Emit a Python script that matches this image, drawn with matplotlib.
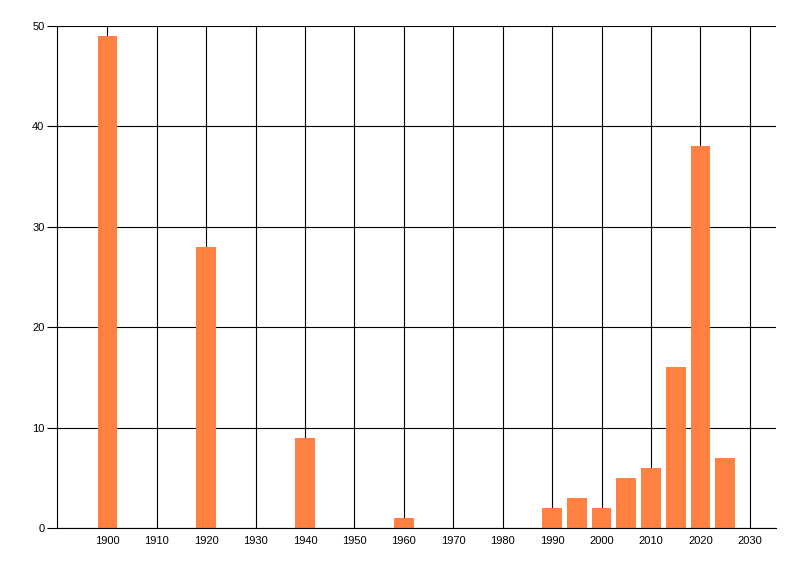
import matplotlib
matplotlib.use("Agg")
import matplotlib.pyplot as plt

# data
years = [1900, 1920, 1940, 1960, 1990, 1995, 2000, 2005, 2010, 2015, 2020, 2025]
counts = [49, 28, 9, 1, 2, 3, 2, 5, 6, 16, 38, 7]
x_ticks = list(range(1900, 2031, 10))
y_ticks = [0, 10, 20, 30, 40, 50]

bar_color = "#FF8040"

plt.rcParams['font.family'] = ['Liberation Sans', 'DejaVu Sans']

fig = plt.figure(figsize=(8, 5.76), dpi=100)
ax = fig.add_axes([57 / 800, 48 / 576, (776 - 57) / 800, (528 - 26) / 576])

ax.bar(years, counts, width=4, color=bar_color, zorder=2)

ax.set_xlim(1889.8, 2035.3)
ax.set_ylim(0, 50)
ax.set_xticks(x_ticks)
ax.set_yticks(y_ticks)

ax.set_axisbelow(True)
ax.grid(True, color="black", linewidth=0.8)

for side in ("top", "right"):
    ax.spines[side].set_visible(False)
for side in ("left", "bottom"):
    ax.spines[side].set_linewidth(0.8)

ax.tick_params(axis="x", length=0, pad=6, labelsize=8)
ax.tick_params(axis="y", length=7, width=0.8, pad=2, labelsize=8)

fig.savefig("out.png", dpi=100)
